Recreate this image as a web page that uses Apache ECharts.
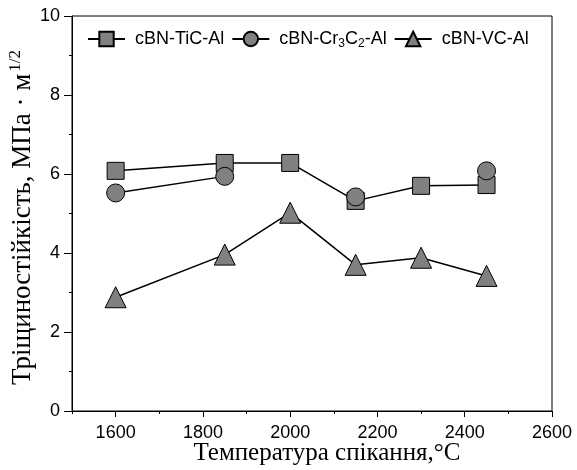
<!DOCTYPE html>
<html>
<head>
<meta charset="utf-8">
<script src="https://cdn.jsdelivr.net/npm/echarts@6/dist/echarts.min.js"></script>
<style>
  html, body { margin: 0; padding: 0; background: #fff; }
  #chart { width: 577px; height: 470px; }
</style>
</head>
<body>
<div id="chart"></div>
<script>
const temperatures = [1600, 1850, 2000, 2150, 2300, 2450];
const ticTough = [6.08, 6.28, 6.28, 5.32, 5.7, 5.72];
const crTough = [5.52, 5.94, null, 5.42, null, 6.08];
const vcTough = [2.88, 3.96, 5.02, 3.7, 3.88, 3.42];
const xMajor = [1600, 1800, 2000, 2200, 2400, 2600];
const xMinor = [1500, 1700, 1900, 2100, 2300, 2500];
const seriesNames = ['cBN-TiC-Al', 'cBN-Cr3C2-Al', 'cBN-VC-Al'];

const pairs = (vals) => temperatures.map((t, i) => [t, vals[i] === null ? '-' : vals[i]]);

const chart = echarts.init(document.getElementById('chart'));
const markStyle = { color: '#808080', borderColor: '#000', borderWidth: 1 };
const lineStyle = { color: '#000', width: 1.5 };
const sans = { fontFamily: 'Liberation Sans', fontSize: 18, color: '#000' };

chart.setOption({
  animation: false,
  grid: {
    left: 72, right: 25, top: 16, bottom: 59,
    outerBoundsMode: 'none', containLabel: false,
    show: true, borderColor: '#000', borderWidth: 1,
  },
  legend: {
    left: 82, top: 25,
    itemWidth: 37, itemHeight: 18, itemGap: 7,
    data: seriesNames,
    textStyle: {
      ...sans,
      padding: [0, 0, 0, 5],
      rich: {
        n: { ...sans },
        s: { fontFamily: 'Liberation Sans', fontSize: 12, color: '#000', padding: [9, 0, 0, 0] },
      },
    },
    formatter: (name) => (name === 'cBN-Cr3C2-Al' ? '{n|cBN-Cr}{s|3}{n|C}{s|2}{n|-Al}' : name),
  },
  xAxis: [
    {
      type: 'value', min: 1500, max: 2600,
      name: 'Температура спікання,°C',
      nameLocation: 'middle', nameGap: 30, nameMoveOverlap: false,
      nameTextStyle: { fontFamily: 'Liberation Serif', fontSize: 25, color: '#000', padding: [0, 0, 0, 30] },
      splitLine: { show: false },
      axisLine: { lineStyle: { color: '#000', width: 1 } },
      axisTick: { customValues: xMajor, length: 6, lineStyle: { color: '#000' } },
      axisLabel: { ...sans, customValues: xMajor, margin: 13, formatter: (v) => String(v) },
    },
    {
      type: 'value', min: 1500, max: 2600, position: 'bottom',
      splitLine: { show: false },
      axisLine: { show: false },
      axisTick: { customValues: xMinor, length: 3, lineStyle: { color: '#000' } },
      axisLabel: { show: false },
    },
  ],
  yAxis: {
    type: 'value', min: 0, max: 10, interval: 2,
    name: '{m|Тріщиностійкість, МПа · м}{sup|1/2}',
    nameLocation: 'middle', nameGap: 34, nameMoveOverlap: false,
    nameTextStyle: {
      fontFamily: 'Liberation Serif', fontSize: 27, color: '#000', padding: [0, 8, 0, 0],
      rich: {
        m: { fontFamily: 'Liberation Serif', fontSize: 27, color: '#000' },
        sup: { fontFamily: 'Liberation Serif', fontSize: 17, color: '#000', padding: [0, 0, 14, 2] },
      },
    },
    splitLine: { show: false },
    axisLine: { lineStyle: { color: '#000', width: 1 } },
    axisTick: { length: 8, lineStyle: { color: '#000' } },
    minorTick: { show: true, splitNumber: 2, length: 3, lineStyle: { color: '#000' } },
    minorSplitLine: { show: false },
    axisLabel: { ...sans, margin: 12 },
  },
  series: [
    {
      name: seriesNames[0], type: 'line', data: pairs(ticTough),
      symbol: 'rect', symbolSize: 17, itemStyle: markStyle, lineStyle: lineStyle,
    },
    {
      name: seriesNames[1], type: 'line', data: pairs(crTough), connectNulls: false,
      symbol: 'circle', symbolSize: 18, itemStyle: markStyle, lineStyle: lineStyle,
    },
    {
      name: seriesNames[2], type: 'line', data: pairs(vcTough),
      symbol: 'triangle', symbolSize: 21, itemStyle: markStyle, lineStyle: lineStyle,
    },
  ],
});
</script>
</body>
</html>
